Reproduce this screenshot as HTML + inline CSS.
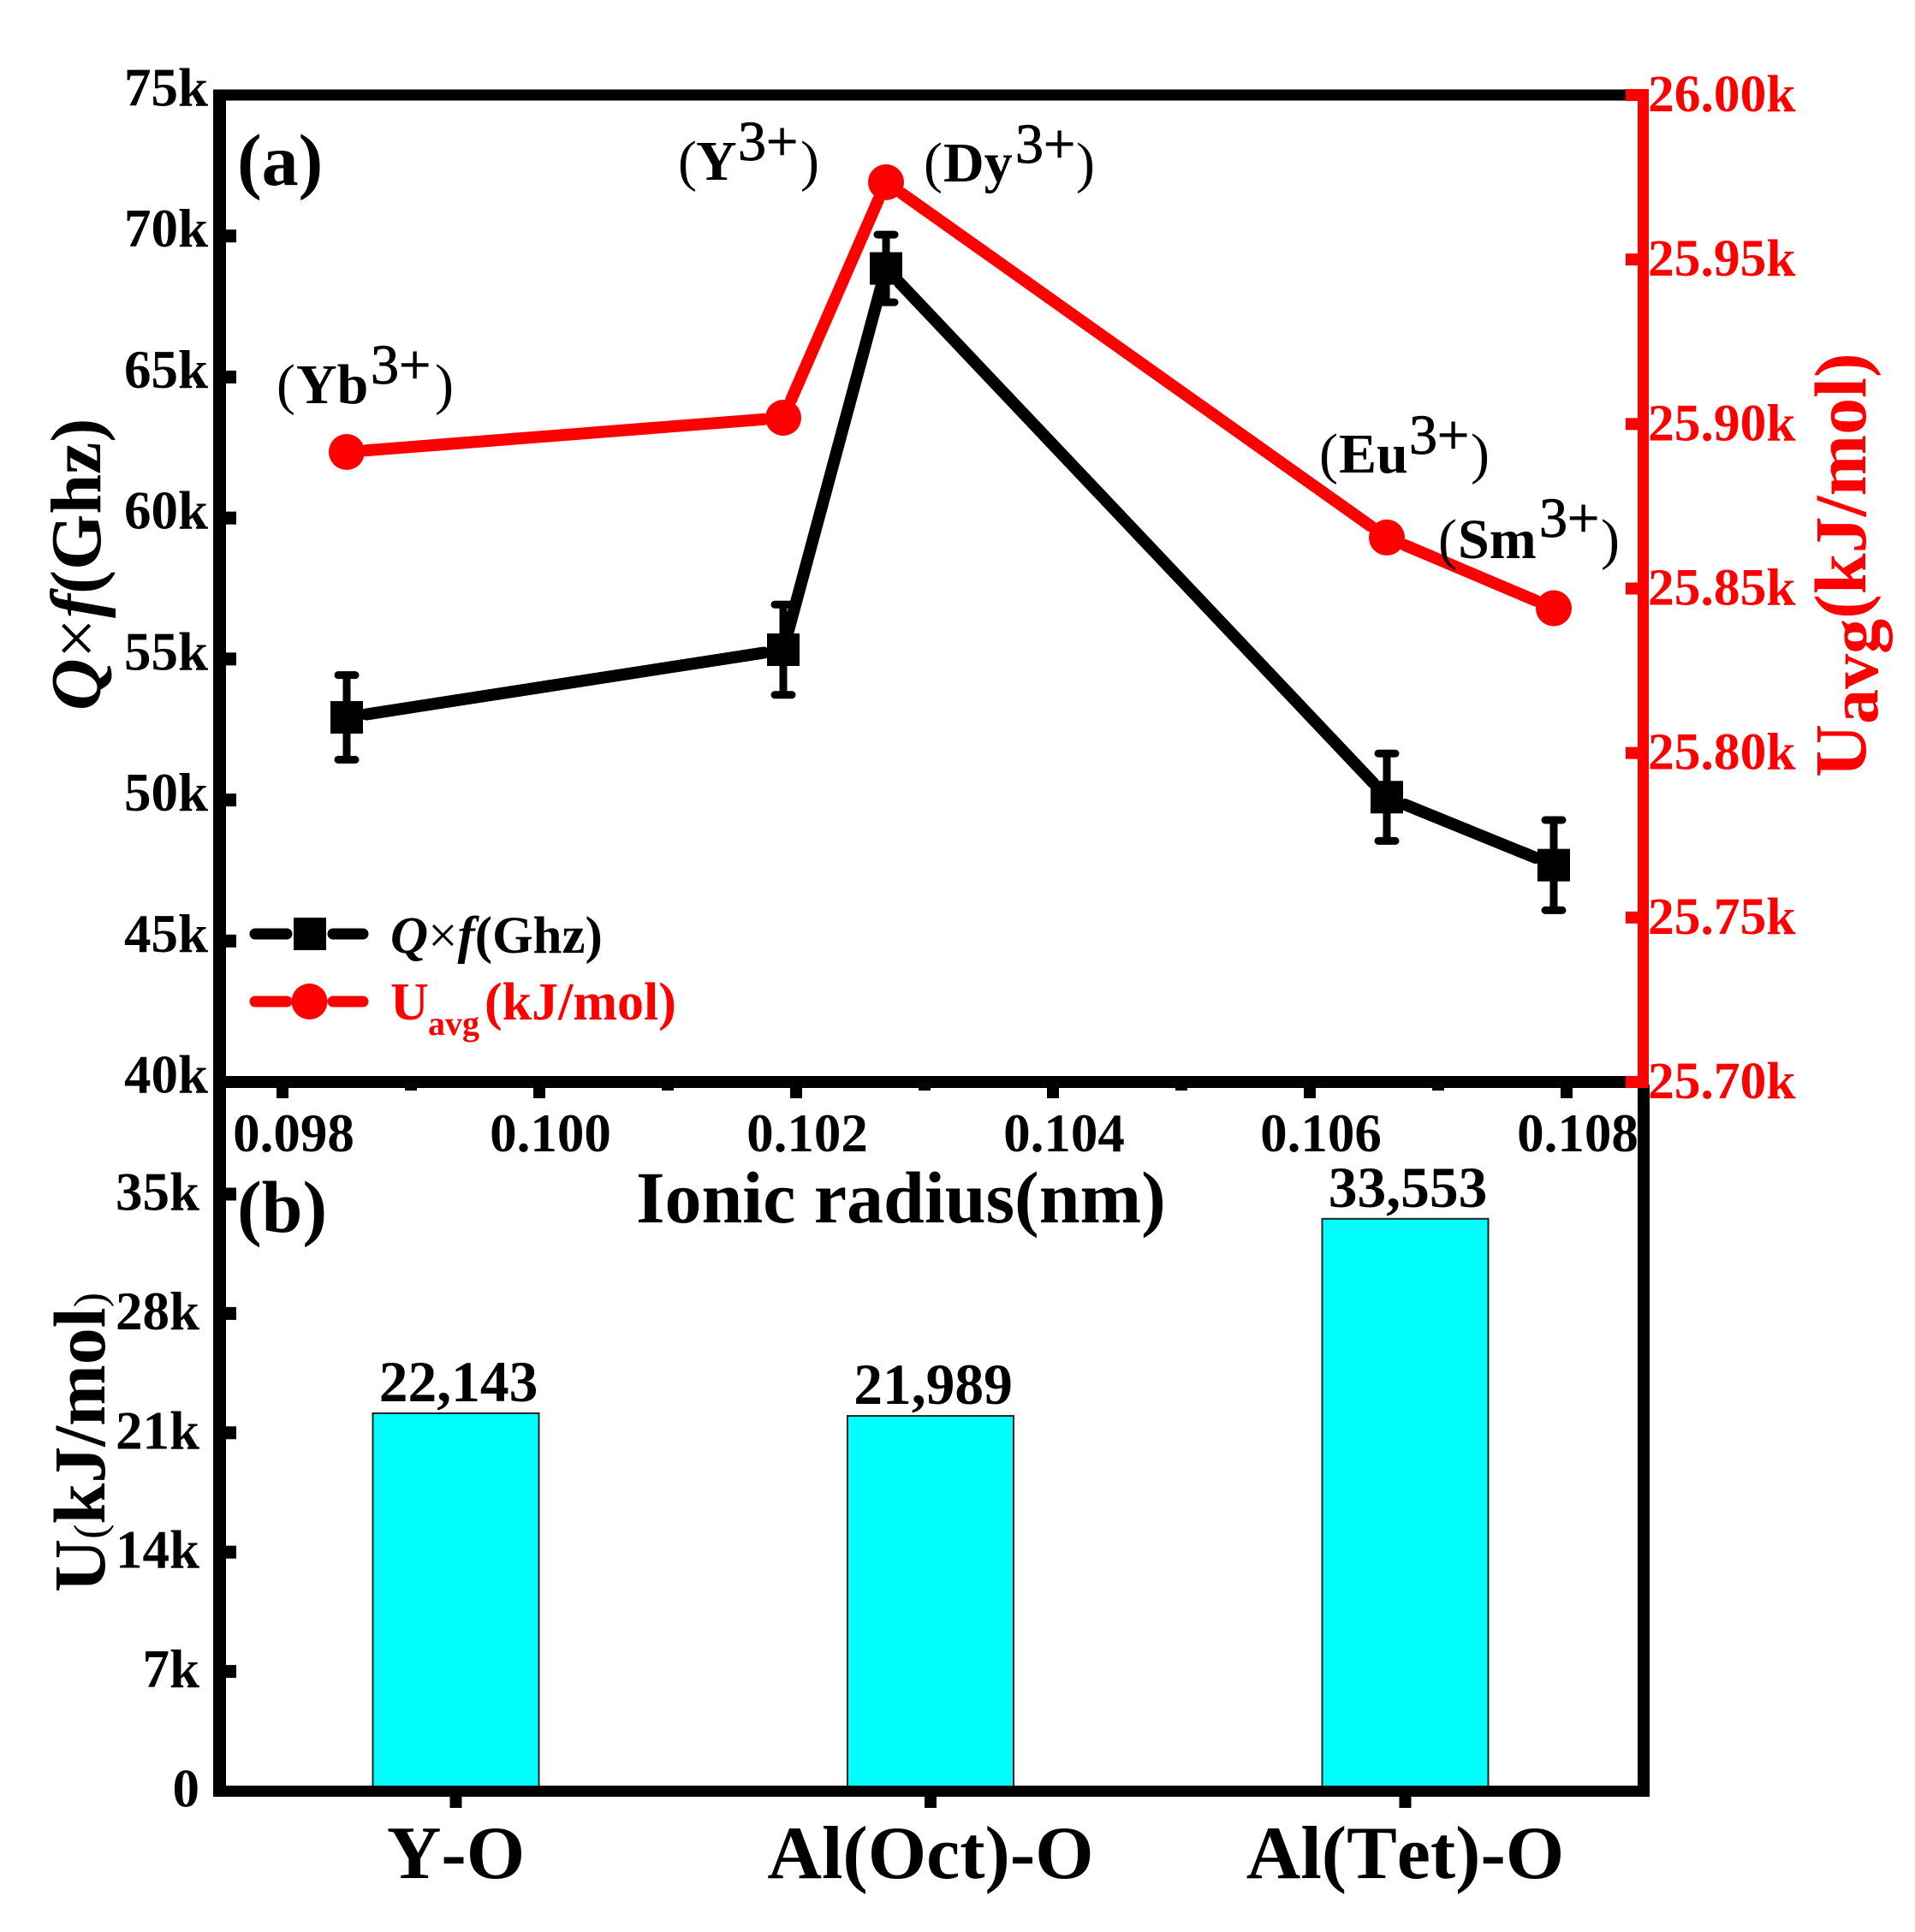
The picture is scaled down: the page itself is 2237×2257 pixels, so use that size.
<!DOCTYPE html>
<html lang="en">
<head>
<meta charset="utf-8">
<title>Q×f and bond energy chart</title>
<style>
html,body{margin:0;padding:0;background:#fff;}
svg{display:block;}
text{font-family:"Liberation Serif","Times New Roman",serif;font-weight:bold;fill:#000;font-kerning:none;}
.r{font-weight:normal;}
.sup{font-weight:normal;stroke:#000;stroke-width:1;}
.red{fill:#f00;}
</style>
</head>
<body>
<svg id="chart" xmlns="http://www.w3.org/2000/svg" width="2237" height="2257" viewBox="0 0 2237 2257">
<rect x="0" y="0" width="2237" height="2257" fill="#fff"/>
<g id="bars"></g>
<g id="axes">
<rect x="249" y="104.5" width="1665" height="13" fill="#000"/>
<rect x="249" y="104.5" width="15" height="1994.5" fill="#000"/>
<rect x="249" y="1257" width="1665" height="14" fill="#000"/>
<rect x="249" y="2086" width="1678" height="13" fill="#000"/>
<rect x="1913" y="1267" width="14" height="832" fill="#000"/>
<rect x="1913" y="104.5" width="13" height="1166" fill="#f00"/>
</g>
<g id="ticks"></g>
<g id="series"></g>

<text x="277" y="216" font-size="86">(a)</text>
<text x="277" y="1439" font-size="86">(b)</text>

<text font-size="66"><tspan class="r" x="323" y="471">(</tspan><tspan x="346" y="471">Yb</tspan><tspan class="sup" x="433" y="448">3+</tspan><tspan class="r" x="508" y="471">)</tspan></text>
<text font-size="66"><tspan class="r" x="792" y="210">(</tspan><tspan x="813" y="210">Y</tspan><tspan class="sup" x="862" y="187">3+</tspan><tspan class="r" x="935" y="210">)</tspan></text>
<text font-size="66"><tspan class="r" x="1079" y="212">(</tspan><tspan x="1102" y="212">Dy</tspan><tspan class="sup" x="1186" y="190">3+</tspan><tspan class="r" x="1257" y="212">)</tspan></text>
<text font-size="66"><tspan class="r" x="1541" y="552">(</tspan><tspan x="1564" y="552">Eu</tspan><tspan class="sup" x="1646" y="530">3+</tspan><tspan class="r" x="1718" y="552">)</tspan></text>
<text font-size="66"><tspan class="r" x="1680" y="652">(</tspan><tspan x="1703" y="652">Sm</tspan><tspan class="sup" x="1798" y="627">3+</tspan><tspan class="r" x="1870" y="652">)</tspan></text>

<text transform="translate(117,830) rotate(-90)" font-size="84"><tspan font-style="italic">Q</tspan><tspan class="r">×</tspan><tspan font-style="italic">f</tspan><tspan>(Ghz)</tspan></text>
<text transform="translate(122,1860) rotate(-90)" font-size="86"><tspan>U</tspan><tspan font-size="52" class="r">(</tspan><tspan>kJ/mol</tspan><tspan font-size="52" class="r">)</tspan></text>
<text class="red" transform="translate(2179,908) rotate(-90)" font-size="86"><tspan>U</tspan><tspan dy="14" font-size="82">avg</tspan><tspan dy="-14">(kJ/mol)</tspan></text>
<text x="743" y="1428" font-size="86">Ionic radius(nm)</text>

<g>
<line x1="298" y1="1091" x2="335" y2="1091" stroke="#000" stroke-width="13" stroke-linecap="round"/>
<line x1="389" y1="1091" x2="424" y2="1091" stroke="#000" stroke-width="13" stroke-linecap="round"/>
<rect x="343" y="1072" width="38" height="38" fill="#000"/>
<text x="456" y="1113" font-size="61"><tspan font-style="italic">Q</tspan><tspan class="r">×</tspan><tspan font-style="italic">f</tspan><tspan>(Ghz)</tspan></text>
<line x1="298" y1="1170" x2="335" y2="1170" stroke="#f00" stroke-width="13" stroke-linecap="round"/>
<line x1="389" y1="1170" x2="424" y2="1170" stroke="#f00" stroke-width="13" stroke-linecap="round"/>
<circle cx="361.5" cy="1170" r="21" fill="#f00"/>
<text class="red" font-size="62"><tspan x="456" y="1191">U</tspan><tspan x="500" y="1209" font-size="40">avg</tspan><tspan x="566" y="1191">(kJ/mol)</tspan></text>
</g>

<script>
// ---- chart data ----
const radiusNm = [0.0985, 0.1019, 0.1027, 0.1066, 0.1079];
const qfValues = [52930, 55330, 68850, 50100, 47690];
const qfErrors = [1500, 1600, 1200, 1550, 1600];
const uavgValues = [25891.5, 25901.9, 25973.5, 25865.5, 25844];

const xMajorTicks = [0.098, 0.100, 0.102, 0.104, 0.106, 0.108];
const xMinorTicks = [0.099, 0.101, 0.103, 0.105, 0.107];
const qfTicks = [40000, 45000, 50000, 55000, 60000, 65000, 70000, 75000];
const qfTickLabels = ['40k', '45k', '50k', '55k', '60k', '65k', '70k', '75k'];
const uavgTicks = [25700, 25750, 25800, 25850, 25900, 25950, 26000];
const uavgTickLabels = ['25.70k', '25.75k', '25.80k', '25.85k', '25.90k', '25.95k', '26.00k'];

const bondCategories = ['Y-O', 'Al(Oct)-O', 'Al(Tet)-O'];
const bondValues = [22143, 21989, 33553];
const bondTicks = [0, 7000, 14000, 21000, 28000, 35000];
const bondTickLabels = ['0', '7k', '14k', '21k', '28k', '35k'];

// ---- axis functions ----
function xRadius(v) { return 330 + (v - 0.098) * 150000; }
function yQf(v) { return 111 + (75000 - v) * 1153 / 35000; }
function yUavg(v) { return 111 + (26000 - v) * 1153 / 300; }
function yBond(v) { return 2092 - v * 697 / 35000; }
function xBond(i) { return 532.5 + i * 554.5; }

const NS = 'http://www.w3.org/2000/svg';
function make(tag, attrs, parent) {
  const el = document.createElementNS(NS, tag);
  for (const k in attrs) { el.setAttribute(k, attrs[k]); }
  parent.appendChild(el);
  return el;
}
const barsG = document.getElementById('bars');
const ticksG = document.getElementById('ticks');
const seriesG = document.getElementById('series');

// left ticks, upper panel
qfTicks.forEach(function (t, i) {
  if (i > 0 && i < qfTicks.length - 1) {
    const tick = make('rect', { x: 264, y: yQf(t) - 7.5, width: 12, height: 15, fill: '#000' }, ticksG);
    
    
  }
  const label = make('text', { x: 243, y: yQf(t) + 12.5, 'font-size': 63, 'text-anchor': 'end' }, ticksG);
  
  
  label.textContent = qfTickLabels[i];
});

// right ticks
uavgTicks.forEach(function (t, i) {
  const tick = make('rect', { x: 1899, y: yUavg(t) - 7, width: 27, height: 14, fill: '#f00' }, ticksG);
  
  
  const label = make('text', { x: 1925, y: yUavg(t) + 19, 'font-size': 61.5, 'class': 'red' }, ticksG);
  
  
  label.textContent = uavgTickLabels[i];
});

// x ticks
xMajorTicks.forEach(function (t) {
  const tick = make('rect', { x: xRadius(t) - 7, y: 1264, width: 14, height: 19, fill: '#000' }, ticksG);
  
  
  const label = make('text', { x: xRadius(t) + 13, y: 1345, 'font-size': 63, 'text-anchor': 'middle' }, ticksG);
  
  
  label.textContent = t.toFixed(3);
});
xMinorTicks.forEach(function (t) {
  const tick = make('rect', { x: xRadius(t) - 7, y: 1264, width: 14, height: 10, fill: '#000' }, ticksG);
  
  
});

// lower panel y ticks
bondTicks.forEach(function (t, i) {
  if (t > 0) {
    const tick = make('rect', { x: 264, y: yBond(t) - 7.5, width: 12, height: 15, fill: '#000' }, ticksG);
    
    
  }
  const label = make('text', { x: 233, y: yBond(t) + 18.5, 'font-size': 63, 'text-anchor': 'end' }, ticksG);
  
  
  label.textContent = bondTickLabels[i];
});

// bars
bondCategories.forEach(function (c, i) {
  const x = xBond(i);
  const top = yBond(bondValues[i]);
  const bar = make('rect', { x: x - 97, y: top, width: 194, height: 2092 - top, fill: '#0ff', stroke: '#222', 'stroke-width': 2 }, barsG);
  
  
  const value = make('text', { x: x + 3, y: top - 14, 'font-size': 67.5, 'text-anchor': 'middle' }, ticksG);
  
  
  value.textContent = bondValues[i].toLocaleString('en-US');
  const tick = make('rect', { x: x - 7, y: 2092, width: 14, height: 20, fill: '#000' }, ticksG);
  
  
  const label = make('text', { x: x, y: 2194, 'font-size': 88, 'text-anchor': 'middle' }, ticksG);
  
  
  label.textContent = c;
});

// line segments leave a gap around every marker
function drawSegments(xs, ys, color, name) {
  const gap = 23;
  for (let i = 0; i < xs.length - 1; i++) {
    const dx = xs[i + 1] - xs[i];
    const dy = ys[i + 1] - ys[i];
    const len = Math.sqrt(dx * dx + dy * dy);
    const ux = dx / len;
    const uy = dy / len;
    const seg = make('line', {
      x1: xs[i] + ux * gap, y1: ys[i] + uy * gap,
      x2: xs[i + 1] - ux * gap, y2: ys[i + 1] - uy * gap,
      stroke: color, 'stroke-width': 14, 'stroke-linecap': 'round'
    }, seriesG);
    
    
  }
}
const pointX = radiusNm.map(xRadius);

drawSegments(pointX, uavgValues.map(yUavg), '#f00', 'uavg-line-segment');
drawSegments(pointX, qfValues.map(yQf), '#000', 'qf-line-segment');

// Q×f markers and error bars
qfValues.forEach(function (v, i) {
  const x = pointX[i];
  const yTop = yQf(v + qfErrors[i]);
  const yBottom = yQf(v - qfErrors[i]);
  const stem = make('line', { x1: x, y1: yTop, x2: x, y2: yBottom, stroke: '#000', 'stroke-width': 9 }, seriesG);
  
  
  [yTop, yBottom].forEach(function (yc) {
    const cap = make('line', { x1: x - 10, y1: yc, x2: x + 10, y2: yc, stroke: '#000', 'stroke-width': 9, 'stroke-linecap': 'round' }, seriesG);
    
    
  });
  const marker = make('rect', { x: x - 19, y: yQf(v) - 19, width: 38, height: 38, fill: '#000' }, seriesG);
  
  
});

// Uavg markers
uavgValues.forEach(function (v, i) {
  const marker = make('circle', { cx: pointX[i], cy: yUavg(v), r: 21, fill: '#f00' }, seriesG);
  
  
});
</script>
</svg>
</body>
</html>
